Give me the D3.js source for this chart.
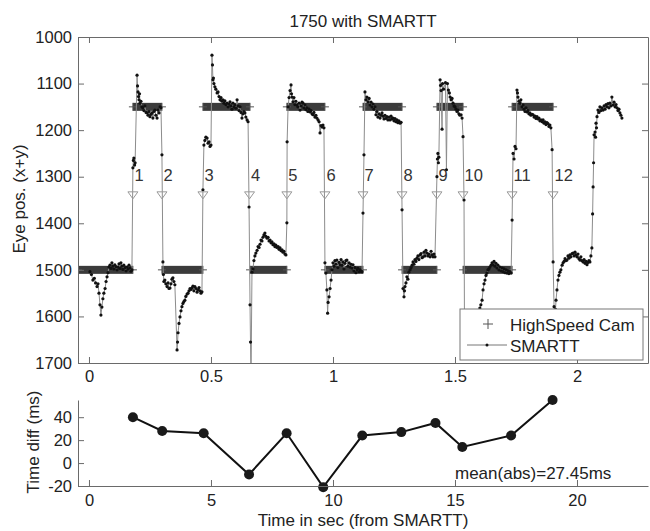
<!DOCTYPE html>
<html>
<head>
<meta charset="utf-8">
<script src="https://cdn.jsdelivr.net/npm/d3@7"></script>
<style>
  body { margin: 0; background: #fff; }
  svg { font-family: "Liberation Sans", Arial, sans-serif; }
</style>
</head>
<body>
<script>
// ---- data ----
const topXTicks = [0, 0.5, 1, 1.5, 2];
const topYTicks = [1000, 1100, 1200, 1300, 1400, 1500, 1600, 1700];
const botXTicks = [0, 5, 10, 15, 20];
const botYTicks = [-20, 0, 20, 40];

// HighSpeed Cam target bars: boundaries (s) and level of each bar
const camBounds = [-0.045, 0.180, 0.299, 0.467, 0.660, 0.811, 0.967, 1.123, 1.283, 1.426, 1.533, 1.734, 1.902];
const camLevels = [1500, 1150, 1500, 1150, 1500, 1150, 1500, 1150, 1500, 1150, 1500, 1150];

// detected transitions
const transT = [0.180, 0.299, 0.467, 0.658, 0.811, 0.967, 1.123, 1.283, 1.426, 1.533, 1.734, 1.902];
const transLabels = ["1", "2", "3", "4", "5", "6", "7", "8", "9", "10", "11", "12"];
const transMarkLevel = 1340;
const transTextLevel = 1300;

// SMARTT trace [t, eye pos]
const seg01 = [[0.004,1504],[0.010,1510],[0.016,1522],[0.022,1518],[0.027,1528],[0.033,1536],[0.037,1530],[0.041,1550],[0.045,1575],[0.049,1597],[0.053,1580],[0.057,1562],[0.061,1550],[0.066,1540],[0.070,1525],[0.074,1515],[0.078,1506],[0.082,1494],[0.086,1490],[0.090,1497],[0.094,1485],[0.098,1492],[0.102,1498],[0.106,1489],[0.111,1493],[0.115,1500],[0.119,1494],[0.123,1487],[0.127,1497],[0.131,1485],[0.135,1492],[0.139,1499],[0.143,1490],[0.148,1495],[0.152,1502],[0.156,1494],[0.160,1498],[0.164,1490],[0.168,1496],[0.172,1503],[0.176,1500]];
const seg02 = [[0.180,1281],[0.182,1265],[0.184,1260],[0.187,1275],[0.189,1270],[0.197,1082],[0.199,1105],[0.201,1118],[0.203,1128],[0.205,1135],[0.207,1122],[0.209,1142],[0.213,1138],[0.217,1150],[0.221,1152],[0.225,1158],[0.229,1148],[0.234,1162],[0.238,1163],[0.242,1168],[0.246,1160],[0.250,1171],[0.254,1166],[0.258,1163],[0.262,1174],[0.266,1160],[0.270,1157],[0.274,1168],[0.279,1174],[0.283,1157],[0.287,1163],[0.291,1150],[0.295,1152]];
const seg03 = [[0.299,1253],[0.303,1483],[0.305,1510],[0.307,1525],[0.311,1522],[0.315,1530],[0.320,1536],[0.324,1528],[0.328,1540],[0.332,1539],[0.336,1530],[0.340,1520],[0.344,1517],[0.348,1525],[0.352,1532],[0.361,1672],[0.363,1655],[0.365,1635],[0.369,1615],[0.373,1601],[0.377,1588],[0.381,1579],[0.385,1572],[0.389,1568],[0.393,1565],[0.397,1557],[0.402,1552],[0.406,1550],[0.410,1545],[0.414,1540],[0.418,1542],[0.422,1539],[0.426,1535],[0.430,1545],[0.434,1536],[0.439,1540],[0.443,1548],[0.447,1543],[0.451,1538],[0.455,1545],[0.459,1550],[0.463,1547]];
const seg04 = [[0.467,1328],[0.471,1232],[0.475,1222],[0.479,1215],[0.484,1217],[0.488,1228],[0.492,1225],[0.496,1235],[0.500,1232],[0.504,1039],[0.506,1060],[0.508,1092],[0.510,1088],[0.512,1100],[0.516,1107],[0.520,1112],[0.525,1120],[0.529,1118],[0.533,1128],[0.537,1135],[0.541,1130],[0.545,1138],[0.549,1135],[0.553,1142],[0.557,1137],[0.561,1145],[0.566,1142],[0.570,1150],[0.574,1144],[0.578,1139],[0.582,1148],[0.586,1155],[0.590,1142],[0.594,1150],[0.598,1146],[0.602,1153],[0.607,1135],[0.611,1148],[0.615,1158],[0.619,1150],[0.623,1162],[0.627,1174],[0.631,1165],[0.635,1160],[0.639,1163],[0.643,1172],[0.648,1178],[0.652,1182]];
const seg05 = [[0.656,1365],[0.660,1575],[0.662,1655],[0.664,1740],[0.668,1505],[0.672,1498],[0.676,1480],[0.680,1470],[0.684,1464],[0.689,1458],[0.693,1450],[0.697,1452],[0.701,1445],[0.705,1436],[0.709,1438],[0.713,1430],[0.717,1425],[0.721,1421],[0.725,1428],[0.730,1432],[0.734,1430],[0.738,1438],[0.742,1436],[0.746,1442],[0.750,1440],[0.754,1446],[0.758,1444],[0.762,1450],[0.766,1447],[0.770,1452],[0.775,1450],[0.779,1456],[0.783,1453],[0.787,1459],[0.791,1457],[0.795,1462],[0.799,1460],[0.803,1466],[0.807,1468]];
const seg06 = [[0.811,1399],[0.812,1225],[0.816,1150],[0.820,1130],[0.824,1115],[0.828,1103],[0.830,1122],[0.832,1129],[0.836,1139],[0.840,1130],[0.844,1145],[0.848,1138],[0.852,1146],[0.856,1150],[0.861,1142],[0.865,1157],[0.869,1148],[0.873,1140],[0.877,1142],[0.881,1152],[0.885,1146],[0.889,1156],[0.893,1152],[0.897,1160],[0.902,1155],[0.906,1161],[0.910,1158],[0.914,1165],[0.918,1167],[0.922,1162],[0.926,1172],[0.930,1168],[0.934,1174],[0.939,1178],[0.943,1182],[0.947,1206],[0.951,1190],[0.955,1193],[0.959,1189],[0.963,1195]];
const seg07 = [[0.967,1485],[0.971,1507],[0.975,1543],[0.978,1593],[0.980,1570],[0.984,1558],[0.988,1540],[0.992,1522],[0.996,1500],[1.000,1485],[1.004,1492],[1.008,1480],[1.012,1488],[1.016,1479],[1.020,1495],[1.025,1484],[1.029,1489],[1.033,1478],[1.037,1490],[1.041,1483],[1.045,1498],[1.049,1486],[1.053,1480],[1.057,1479],[1.061,1492],[1.066,1485],[1.070,1494],[1.074,1488],[1.078,1496],[1.082,1489],[1.086,1502],[1.090,1495],[1.094,1506],[1.098,1500],[1.102,1497],[1.107,1504],[1.111,1500],[1.115,1503],[1.119,1504]];
const seg08 = [[1.123,1378],[1.127,1253],[1.131,1118],[1.135,1135],[1.139,1129],[1.143,1139],[1.148,1132],[1.152,1146],[1.156,1140],[1.160,1150],[1.164,1144],[1.168,1155],[1.172,1150],[1.176,1167],[1.180,1160],[1.184,1172],[1.189,1165],[1.193,1174],[1.197,1168],[1.201,1163],[1.205,1170],[1.209,1176],[1.213,1168],[1.217,1175],[1.221,1171],[1.225,1178],[1.230,1172],[1.234,1178],[1.238,1170],[1.242,1176],[1.246,1174],[1.250,1180],[1.254,1175],[1.258,1182],[1.262,1178],[1.266,1184],[1.270,1180],[1.275,1185],[1.279,1183]];
const seg09 = [[1.283,1371],[1.287,1540],[1.291,1558],[1.293,1545],[1.295,1536],[1.299,1528],[1.303,1515],[1.307,1520],[1.311,1505],[1.316,1500],[1.320,1495],[1.324,1490],[1.328,1483],[1.332,1488],[1.336,1478],[1.340,1482],[1.344,1475],[1.348,1470],[1.352,1478],[1.357,1468],[1.361,1465],[1.365,1474],[1.369,1472],[1.373,1462],[1.377,1470],[1.381,1458],[1.385,1464],[1.389,1470],[1.393,1466],[1.398,1472],[1.402,1460],[1.406,1468],[1.410,1472],[1.414,1466],[1.418,1472]];
const seg10 = [[1.426,1300],[1.428,1262],[1.430,1250],[1.432,1270],[1.434,1258],[1.439,1092],[1.441,1104],[1.443,1115],[1.447,1198],[1.449,1100],[1.453,1112],[1.461,1098],[1.465,1285],[1.469,1100],[1.473,1114],[1.477,1120],[1.480,1129],[1.484,1135],[1.488,1132],[1.492,1142],[1.496,1148],[1.500,1150],[1.504,1155],[1.508,1160],[1.512,1157],[1.516,1165],[1.520,1168],[1.525,1167],[1.529,1174]];
const seg11 = [[1.533,1214],[1.537,1350],[1.539,1640],[1.545,1665],[1.560,1660],[1.580,1640],[1.594,1610],[1.602,1582],[1.606,1575],[1.611,1565],[1.615,1543],[1.619,1530],[1.623,1522],[1.627,1512],[1.631,1507],[1.635,1500],[1.639,1498],[1.643,1494],[1.648,1490],[1.652,1485],[1.656,1489],[1.660,1482],[1.664,1492],[1.668,1486],[1.672,1496],[1.676,1490],[1.680,1500],[1.684,1494],[1.689,1502],[1.693,1496],[1.697,1504],[1.701,1498],[1.705,1506],[1.709,1500],[1.713,1507],[1.717,1502],[1.721,1508],[1.725,1504],[1.730,1507]];
const seg12 = [[1.734,1393],[1.738,1250],[1.742,1262],[1.746,1235],[1.750,1240],[1.754,1114],[1.756,1120],[1.758,1129],[1.762,1138],[1.766,1142],[1.770,1135],[1.775,1150],[1.779,1146],[1.783,1155],[1.787,1160],[1.791,1152],[1.795,1161],[1.799,1158],[1.803,1165],[1.807,1163],[1.811,1168],[1.816,1166],[1.820,1167],[1.824,1172],[1.828,1170],[1.832,1175],[1.836,1171],[1.840,1176],[1.844,1174],[1.848,1180],[1.852,1178],[1.857,1182],[1.861,1178],[1.865,1185],[1.869,1182],[1.873,1188],[1.877,1184],[1.881,1186],[1.885,1192],[1.889,1189],[1.893,1195],[1.898,1242]];
const seg13 = [[1.902,1483],[1.906,1579],[1.908,1610],[1.912,1585],[1.914,1565],[1.918,1543],[1.922,1522],[1.926,1512],[1.930,1505],[1.934,1500],[1.939,1490],[1.943,1485],[1.947,1482],[1.951,1476],[1.955,1480],[1.959,1479],[1.963,1470],[1.967,1475],[1.971,1468],[1.975,1472],[1.980,1465],[1.984,1464],[1.988,1470],[1.992,1462],[1.996,1468],[2.000,1472],[2.004,1466],[2.008,1476],[2.012,1479],[2.016,1472],[2.020,1480],[2.025,1483],[2.029,1478],[2.033,1486],[2.037,1482],[2.041,1489],[2.045,1484],[2.049,1480],[2.053,1483]];
const seg14 = [[2.057,1470],[2.061,1453],[2.064,1380],[2.066,1322],[2.068,1270],[2.070,1210],[2.074,1204],[2.076,1215],[2.078,1185],[2.080,1195],[2.082,1171],[2.086,1157],[2.090,1162],[2.094,1150],[2.098,1158],[2.102,1152],[2.107,1157],[2.111,1148],[2.115,1155],[2.119,1145],[2.123,1150],[2.127,1143],[2.131,1152],[2.135,1142],[2.139,1148],[2.143,1129],[2.148,1146],[2.152,1140],[2.156,1150],[2.160,1145],[2.164,1152],[2.168,1158],[2.172,1155],[2.176,1163],[2.180,1168],[2.184,1174]];
const smartt = [].concat(seg01, seg02, seg03, seg04, seg05, seg06, seg07, seg08, seg09, seg10, seg11, seg12, seg13, seg14);

// time differences (bottom panel)
const diffX = [1.80, 3.0, 4.7, 6.56, 8.1, 9.6, 11.2, 12.8, 14.2, 15.3, 17.3, 19.0];
const diffY = [40, 28, 26, -10, 26, -21, 24, 27, 35, 14, 24, 55];
const meanText = "mean(abs)=27.45ms";

// ---- layout ----
const W = 650, H = 531;
const axisColor = "#6a6a6a", textColor = "#222";
const svg = d3.select("body").append("svg").attr("width", W).attr("height", H);

const x = d3.scaleLinear().domain([-0.045, 2.291]).range([78, 648]);
const y = d3.scaleLinear().domain([1000, 1700]).range([37, 363]);
const xb = d3.scaleLinear().domain([-0.45, 22.91]).range([78, 648]);
const yb = d3.scaleLinear().domain([-20, 55]).range([486, 400]);

function styleAxis(g) {
    g.select(".domain").attr("stroke", axisColor).attr("stroke-width", 1);
    g.selectAll(".tick line").attr("stroke", axisColor);
    g.selectAll(".tick text").attr("fill", textColor).style("font-size", "16.5px")
        .style("font-family", "Liberation Sans, Arial, sans-serif");
}

// ---- top panel ----
svg.append("defs").append("clipPath").attr("id", "clipTop")
    .append("rect").attr("x", 78).attr("y", 37).attr("width", 570).attr("height", 326);

const plot = svg.append("g").attr("clip-path", "url(#clipTop)");

// HighSpeed Cam bars (dense '+' markers)
const cam = camLevels.map((lv, i) => ({ t0: camBounds[i], t1: camBounds[i + 1], v: lv }));
plot.selectAll(".cam").data(cam).enter().append("rect")
    .attr("x", d => x(d.t0)).attr("width", d => x(d.t1) - x(d.t0))
    .attr("y", d => y(d.v) - 4).attr("height", 8)
    .attr("fill", "#3b3b3b");
const camEnds = cam.flatMap(d => [[d.t0, d.v], [d.t1, d.v]]);
plot.selectAll(".camEnd").data(camEnds).enter().append("path")
    .attr("transform", d => `translate(${x(d[0])},${y(d[1])})`)
    .attr("d", "M-4,0H4M0,-4V4")
    .attr("stroke", "#555").attr("stroke-width", 1).attr("fill", "none");

// SMARTT trace
plot.append("path").datum(smartt)
    .attr("d", d3.line().x(d => x(d[0])).y(d => y(d[1])))
    .attr("fill", "none").attr("stroke", "#8c8c8c").attr("stroke-width", 1);
plot.selectAll(".dot").data(smartt).enter().append("circle")
    .attr("cx", d => x(d[0])).attr("cy", d => y(d[1])).attr("r", 1.6)
    .attr("fill", "#111");

// transition markers
plot.selectAll(".tri").data(transT).enter().append("path")
    .attr("transform", d => `translate(${x(d)},${y(transMarkLevel)})`)
    .attr("d", "M-5,-3.5L5,-3.5L0,3.5Z")
    .attr("fill", "none").attr("stroke", "#999").attr("stroke-width", 1);
plot.selectAll(".tlabel").data(transT).enter().append("text")
    .attr("x", d => x(d) + 1.5).attr("y", y(transTextLevel))
    .attr("dominant-baseline", "middle")
    .attr("fill", "#333").style("font-size", "16.5px")
    .text((d, i) => transLabels[i]);

// axes with box, ticks pointing in
svg.append("g").attr("transform", "translate(0,363)")
    .call(d3.axisBottom(x).tickValues(topXTicks).tickFormat(d => String(d))
        .tickSizeInner(-6).tickSizeOuter(0).tickPadding(7))
    .call(styleAxis);
svg.append("g").attr("transform", "translate(0,37)")
    .call(d3.axisTop(x).tickValues(topXTicks).tickFormat("")
        .tickSizeInner(-6).tickSizeOuter(0))
    .call(styleAxis);
svg.append("g").attr("transform", "translate(78,0)")
    .call(d3.axisLeft(y).tickValues(topYTicks).tickFormat(d => String(d))
        .tickSizeInner(-6).tickSizeOuter(0).tickPadding(6))
    .call(styleAxis);
svg.append("g").attr("transform", "translate(648,0)")
    .call(d3.axisRight(y).tickValues(topYTicks).tickFormat("")
        .tickSizeInner(-6).tickSizeOuter(0))
    .call(styleAxis);

// legend
const leg = svg.append("g");
leg.append("rect").attr("x", 460).attr("y", 309).attr("width", 183).attr("height", 51)
    .attr("fill", "#fff").attr("stroke", "#777").attr("stroke-width", 1);
leg.append("path").attr("d", "M483,324H493M488,319V329")
    .attr("stroke", "#555").attr("stroke-width", 1);
leg.append("line").attr("x1", 467).attr("x2", 507).attr("y1", 345).attr("y2", 345)
    .attr("stroke", "#777").attr("stroke-width", 1);
leg.append("circle").attr("cx", 487).attr("cy", 345).attr("r", 1.5).attr("fill", "#111");
leg.append("text").attr("x", 510).attr("y", 331).attr("fill", textColor)
    .style("font-size", "17px").text("HighSpeed Cam");
leg.append("text").attr("x", 510).attr("y", 352).attr("fill", textColor)
    .style("font-size", "17px").text("SMARTT");

// title and labels
svg.append("text").attr("x", 363).attr("y", 27).attr("text-anchor", "middle")
    .attr("fill", textColor).style("font-size", "17px").text("1750 with SMARTT");
svg.append("text").attr("transform", "translate(25,199) rotate(-90)")
    .attr("text-anchor", "middle").attr("fill", textColor).style("font-size", "17px")
    .text("Eye pos. (x+y)");

// ---- bottom panel ----
const diff = diffX.map((v, i) => [v, diffY[i]]);
svg.append("path").datum(diff)
    .attr("d", d3.line().x(d => xb(d[0])).y(d => yb(d[1])))
    .attr("fill", "none").attr("stroke", "#111").attr("stroke-width", 2);
svg.selectAll(".diffDot").data(diff).enter().append("circle")
    .attr("cx", d => xb(d[0])).attr("cy", d => yb(d[1])).attr("r", 5)
    .attr("fill", "#1a1a1a");

svg.append("g").attr("transform", "translate(0,486)")
    .call(d3.axisBottom(xb).tickValues(botXTicks).tickFormat(d => String(d))
        .tickSizeInner(-6).tickSizeOuter(0).tickPadding(8))
    .call(styleAxis);
svg.append("g").attr("transform", "translate(78,0)")
    .call(d3.axisLeft(yb).tickValues(botYTicks).tickFormat(d => String(d))
        .tickSizeInner(-6).tickSizeOuter(0).tickPadding(6))
    .call(styleAxis);

svg.append("text").attr("x", xb(15)).attr("y", yb(-10))
    .attr("dominant-baseline", "middle").attr("fill", textColor)
    .style("font-size", "17px").text(meanText);
svg.append("text").attr("transform", "translate(39,442) rotate(-90)")
    .attr("text-anchor", "middle").attr("fill", textColor).style("font-size", "17px")
    .text("Time diff (ms)");
svg.append("text").attr("x", 363).attr("y", 526).attr("text-anchor", "middle")
    .attr("fill", textColor).style("font-size", "17px").text("Time in sec (from SMARTT)");
</script>
</body>
</html>
